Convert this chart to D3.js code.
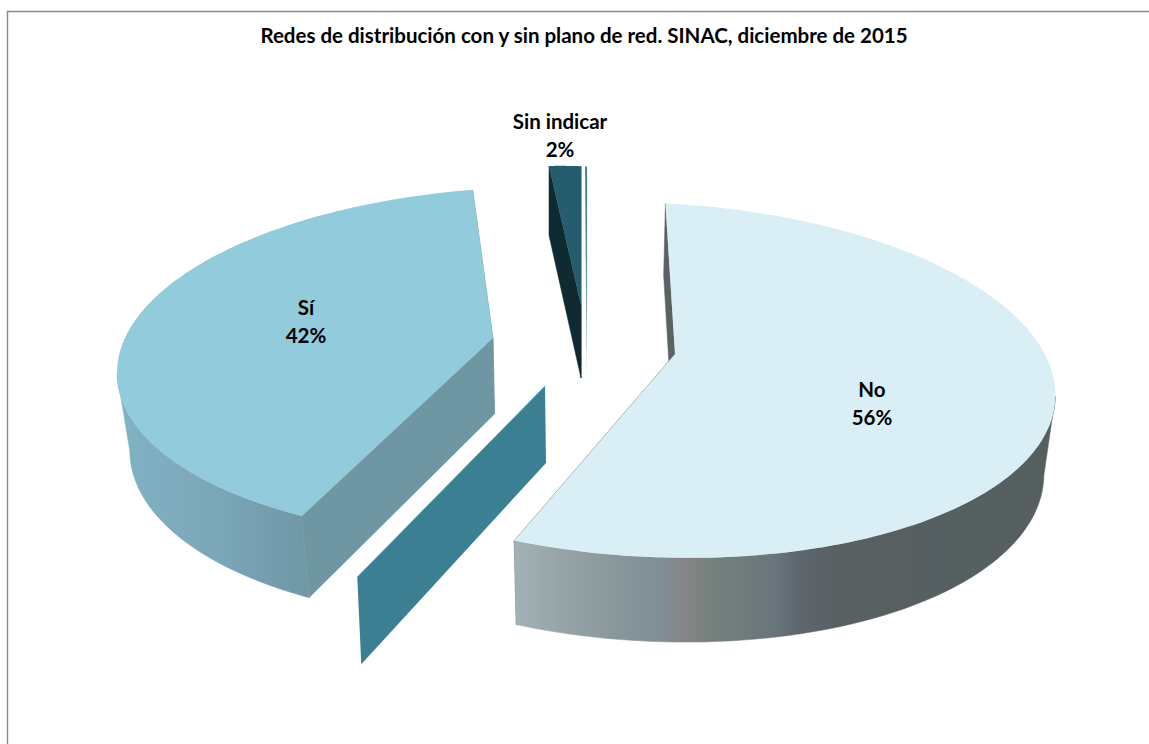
<!DOCTYPE html>
<html>
<head>
<meta charset="utf-8">
<script src="https://cdn.jsdelivr.net/npm/d3@7"></script>
<style>
  html, body { margin: 0; padding: 0; background: #fff; }
  svg { display: block; }
  text { font-family: Lato, "Open Sans", sans-serif; font-weight: 700; fill: #000; }
</style>
</head>
<body>
<svg id="chart" width="1149" height="744"></svg>
<script>
// Chart content
const chartTitle = "Redes de distribución con y sin plano de red. SINAC, diciembre de 2015";
const categories = ["No", "Sí", "Sin indicar"];
const shares = [56, 42, 2];

// Pie rotation and the look of the tilted disc
const rotation = -1.6 * Math.PI / 180;
const sliceLayout = [
  { apex: [675, 354], rx: 395, ry: 172.8, k: 0.152, j: -0.05, skew: 0, tilt: -16, depth: 78, depthGrow: 0.08,
    inset: 0.975, shift: -2, top: "#d9eef5", wall: "#5a6263", side: "url(#sideNo)", sideAfterWidest: true, label: [872, 390] },
  { apex: [493, 338], rx: 398, ry: 172, k: 0.14, j: 0.0881, skew: -38, tilt: -5, depth: 76, depthGrow: 0.08,
    inset: 0.97, shift: 1.5, top: "#92cbdc", wall: "#6f97a3", side: "url(#sideSi)", sideAfterWidest: false, label: [306, 308] },
  { apex: [581, 305], rx: 293.5, ry: 159.5, k: 0.152, j: 0, skew: -8.2, tilt: -15, depth: 73, depthGrow: 0.05,
    inset: 1, shift: 0, top: "#265d6e", wall: "#0f2a31", side: null, sideAfterWidest: false, label: [560, 122] }
];
const detachedFace = { apex: [545, 386], rx: 368, ry: 179, k: 0.127, j: 0, skew: -42, tilt: 0, depth: 77, depthGrow: 0.14,
  inset: 0.984, shift: 1, fill: "#3d7f92", edge: "#5fb4c9" };
const edgeSliver = { apex: [586.6, 373], rx: 370, ry: 238, k: 0.152, j: 0, skew: -8.6, tilt: 0, spread: 0.35 * Math.PI / 180, fill: "#3d7f92" };

const sideNoStops = [[516, "#a2b1b5"], [600, "#8d9a9e"], [660, "#7f8f95"], [684, "#858585"], [720, "#72807d"],
  [775, "#69757b"], [795, "#5f6870"], [835, "#586062"], [1054, "#555f60"]];
const sideSiStops = [[120, "#7fb3c4"], [197, "#7ea8bb"], [225, "#79a6b8"], [290, "#7299a9"], [312, "#6e98a3"]];

const svg = d3.select("#chart");
const defs = svg.append("defs");
function addGradient(id, stops) {
  const x = d3.scaleLinear().domain(d3.extent(stops, d => d[0])).range([0, 1]);
  const g = defs.append("linearGradient").attr("id", id).attr("gradientUnits", "userSpaceOnUse")
    .attr("x1", stops[0][0]).attr("x2", stops[stops.length - 1][0]).attr("y1", 0).attr("y2", 0);
  g.selectAll("stop").data(stops).join("stop").attr("offset", d => x(d[0])).attr("stop-color", d => d[1]);
}
addGradient("sideNo", sideNoStops);
addGradient("sideSi", sideSiStops);

// Frame: only the top and left rules are inside the page
svg.append("path").attr("d", "M7.5,744V11.5H1149").attr("fill", "none").attr("stroke", "#8a8a8a").attr("stroke-width", 1.4);

svg.append("text").attr("x", 584).attr("y", 43).attr("text-anchor", "middle").attr("font-size", 20.5).text(chartTitle);

// Disc projection: pie angle to a point on the top face
function project(p, angle) {
  const X = Math.sin(angle), Y = -Math.cos(angle);
  const s = 1 / (1 - p.k * Y - p.j * X);
  return [p.apex[0] + (p.rx * X + p.skew * Y) * s, p.apex[1] + (p.ry * Y - p.tilt * X) * s, Y];
}
// Same point dropped to the underside of the disc
function drop(p, pt) {
  return [p.apex[0] + (pt[0] - p.apex[0]) * p.inset + p.shift, pt[1] + p.depth * (1 + p.depthGrow * pt[2])];
}
const apexOf = p => [p.apex[0], p.apex[1], 0];
const polygon = d3.line().curve(d3.curveLinearClosed);
function arcPoints(p, a0, a1) {
  return d3.range(0, 161).map(i => project(p, a0 + (a1 - a0) * i / 160));
}
function radialFace(p, angle) {
  const rim = project(p, angle), c = apexOf(p);
  return [rim, drop(p, rim), drop(p, c), c].map(q => q.slice(0, 2));
}

const pie = d3.pie().sort(null).startAngle(rotation).endAngle(rotation + 2 * Math.PI);
const slices = pie(shares);
const layer = svg.append("g");

// Dark teal face standing free between the two large slices
const freeAngle = slices[1].startAngle;
layer.append("path").attr("d", polygon(radialFace(detachedFace, freeAngle))).attr("fill", detachedFace.fill);
const freeRim = project(detachedFace, freeAngle);
layer.append("path").attr("d", d3.line()([detachedFace.apex, freeRim.slice(0, 2)]))
  .attr("stroke", detachedFace.edge).attr("stroke-width", 0.8).attr("fill", "none");

// Hairline edge of the smallest slice
const sliverRim = [slices[2].endAngle, slices[2].endAngle + edgeSliver.spread].map(a => project(edgeSliver, a).slice(0, 2));
layer.append("path").attr("d", polygon([edgeSliver.apex, ...sliverRim])).attr("fill", edgeSliver.fill);

slices.forEach((d, i) => {
  const p = sliceLayout[i];
  const g = layer.append("g").attr("class", "slice");
  // Straight cut faces first, the outer wall over them, the top last
  [d.endAngle, d.startAngle].forEach(a => {
    g.append("path").attr("d", polygon(radialFace(p, a))).attr("fill", p.wall)
      .attr("stroke", p.wall).attr("stroke-width", 0.5);
  });
  const rim = arcPoints(p, d.startAngle, d.endAngle);
  if (p.side) {
    // The wall only shows on the near side of the slice's widest point
    const widest = d3.greatestIndex(rim, q => Math.abs(q[0] - p.apex[0]));
    const near = p.sideAfterWidest ? rim.slice(widest) : rim.slice(0, widest + 1);
    const wall = near.map(q => q.slice(0, 2)).concat(near.slice().reverse().map(q => drop(p, q)));
    g.append("path").attr("d", polygon(wall)).attr("fill", p.side).attr("stroke", p.side).attr("stroke-width", 0.5);
  }
  g.append("path").attr("d", polygon([p.apex, ...rim.map(q => q.slice(0, 2))])).attr("fill", p.top);
});

// Value labels
slices.forEach((d, i) => {
  const at = sliceLayout[i].label;
  const t = svg.append("text").attr("text-anchor", "middle").attr("font-size", 20.5).attr("x", at[0]).attr("y", at[1]);
  t.append("tspan").attr("x", at[0]).attr("dy", "0.35em").text(categories[i]);
  t.append("tspan").attr("x", at[0]).attr("dy", "27.5").text(shares[i] + "%");
});
</script>
</body>
</html>
